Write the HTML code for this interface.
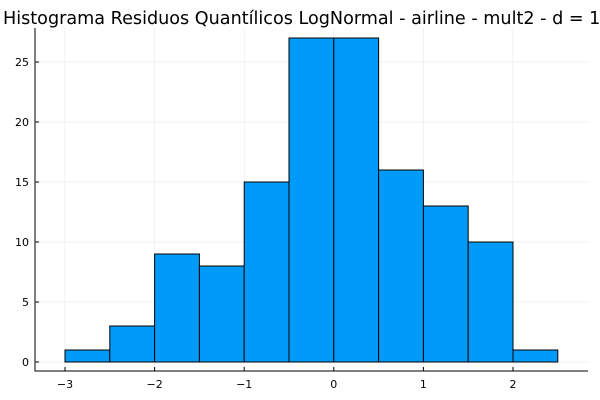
<!DOCTYPE html>
<html><head><meta charset="utf-8"><style>body{margin:0;background:#fff}svg{display:block}text{font-family:"DejaVu Sans","Liberation Sans",sans-serif}</style></head>
<body>
<svg id="c" width="600" height="400">
<text x="3" y="24" font-size="17.6" fill="#000">Histograma Residuos Quantílicos LogNormal - airline - mult2 - d = 1</text>
<g id="grid"></g><g id="bars"></g><g id="axes"></g>
</svg>
<script>
const binEdges=[-3,-2.5,-2,-1.5,-1,-0.5,0,0.5,1,1.5,2,2.5];
const counts=[1,3,9,8,15,27,27,16,13,10,1];
const xTicks=[-3,-2,-1,0,1,2];
const yTicks=[0,5,10,15,20,25];
const L=35,R=588,T=28,B=371;
const X=v=>65+(v+3)*89.6;
const Y=v=>362-v*12;
const ns='http://www.w3.org/2000/svg';
function mk(p,t,a){const e=document.createElementNS(ns,t);for(const k in a)e.setAttribute(k,a[k]);document.getElementById(p).appendChild(e);return e;}
xTicks.forEach(v=>{const g=mk('grid','line',{x1:X(v),x2:X(v),y1:T,y2:B,stroke:'#000','stroke-opacity':0.1,'stroke-width':0.5});

});
yTicks.forEach(v=>{const g=mk('grid','line',{x1:L,x2:R,y1:Y(v),y2:Y(v),stroke:'#000','stroke-opacity':0.1,'stroke-width':0.5});

});
counts.forEach((c,i)=>{const r=mk('bars','rect',{x:X(binEdges[i]),y:Y(c),width:X(binEdges[i+1])-X(binEdges[i]),height:Y(0)-Y(c),fill:'#009af9',stroke:'#000','stroke-width':1});

});
let a=mk('axes','path',{d:`M${L},${T}V${B}H${R}`,fill:'none',stroke:'#000','stroke-width':1});


xTicks.forEach(v=>{mk('axes','line',{x1:X(v),x2:X(v),y1:B,y2:B-4,stroke:'#000'});
const t=mk('axes','text',{x:X(v),y:388,'font-size':11,'text-anchor':'middle'});t.textContent=(v<0?'\u2212'+(-v):v);

});
yTicks.forEach(v=>{mk('axes','line',{x1:L,x2:L+4,y1:Y(v),y2:Y(v),stroke:'#000'});
const t=mk('axes','text',{x:29,y:Y(v)+4,'font-size':11,'text-anchor':'end'});t.textContent=v;

});
</script>
</body></html>
